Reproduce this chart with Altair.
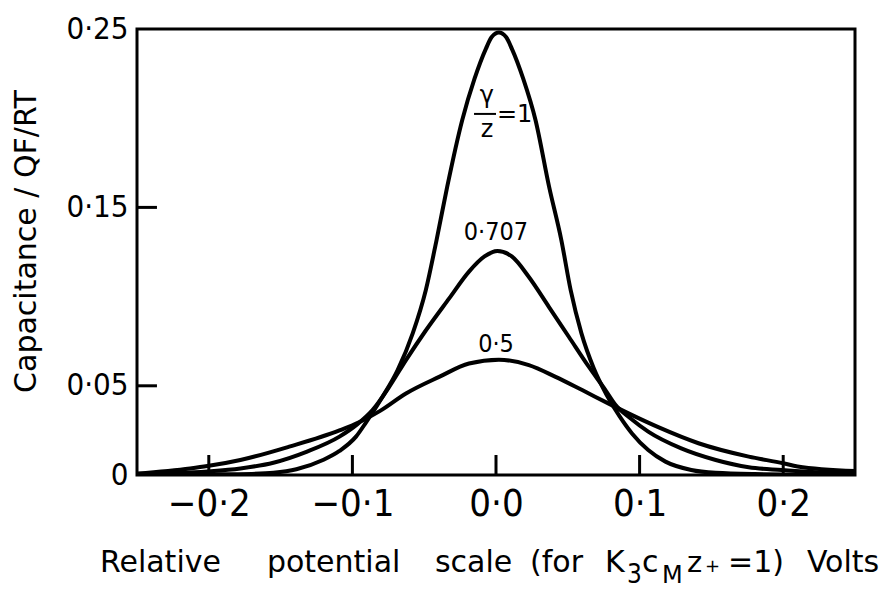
import altair as alt
import pandas as pd

# ---- data ----
x_ticks = [-0.2, -0.1, 0.0, 0.1, 0.2]
y_ticks = [0.0, 0.05, 0.15, 0.25]
y_inner_ticks = [0.05, 0.15]

series_names = ["1", "0.707", "0.5"]

g1_x = [-0.25, -0.20, -0.17, -0.155, -0.139, -0.1205, -0.109, -0.0975, -0.0905, -0.079,
        -0.0685, -0.058, -0.0489, -0.0414, -0.034, -0.0235, -0.015, -0.007, -0.003, 0.002,
        0.007, 0.011, 0.019, 0.0275, 0.037, 0.0455, 0.052, 0.0595, 0.068, 0.077,
        0.086, 0.0947, 0.106, 0.118, 0.136, 0.153, 0.18, 0.25]
g1_y = [0.0, 0.0003, 0.0006, 0.0012, 0.0032, 0.0084, 0.0135, 0.0215, 0.0295, 0.0439,
        0.0588, 0.0794, 0.1036, 0.1317, 0.1615, 0.199, 0.222, 0.239, 0.2455, 0.248,
        0.2455, 0.239, 0.222, 0.199, 0.1615, 0.1317, 0.1036, 0.0794, 0.0600, 0.0450,
        0.0330, 0.0233, 0.0140, 0.0075, 0.0028, 0.0012, 0.0005, 0.0]

g2_x = [-0.25, -0.201, -0.178, -0.155, -0.132, -0.109, -0.0965, -0.086, -0.0743, -0.0627,
        -0.0489, -0.0326, -0.0188, -0.008, 0.001, 0.011, 0.0229, 0.0368, 0.0507, 0.0646,
        0.0762, 0.083, 0.094, 0.106, 0.129, 0.153, 0.176, 0.199, 0.25]
g2_y = [0.0004, 0.0020, 0.0037, 0.0069, 0.0130, 0.0215, 0.0285, 0.0364, 0.0495, 0.0644,
        0.0810, 0.0990, 0.1140, 0.1225, 0.1255, 0.1225, 0.1110, 0.0943, 0.0775, 0.0607,
        0.0476, 0.0395, 0.0315, 0.0243, 0.0149, 0.0084, 0.0043, 0.0028, 0.0005]

g3_x = [-0.25, -0.213, -0.201, -0.178, -0.144, -0.109, -0.095, -0.081, -0.0627, -0.0396,
        -0.0188, 0.002, 0.0229, 0.0415, 0.060, 0.0785, 0.097, 0.113, 0.141, 0.176,
        0.200, 0.21, 0.25]
g3_y = [0.0008, 0.0037, 0.0050, 0.0084, 0.0159, 0.0250, 0.0297, 0.0358, 0.0457, 0.0550,
        0.0625, 0.0646, 0.0616, 0.0550, 0.0476, 0.0400, 0.0327, 0.0268, 0.0178, 0.0103,
        0.0066, 0.0048, 0.0022]

rows = []
for name, xs, ys in zip(series_names, [g1_x, g2_x, g3_x], [g1_y, g2_y, g3_y]):
    for xv, yv in zip(xs, ys):
        rows.append({"series": name, "x": xv, "y": yv})
df = pd.DataFrame(rows)

# ---- styling ----
F_MAIN = "DejaVu Sans"
F_COND = "DejaVu Sans Condensed, DejaVu Sans, sans-serif"
F_NARROW = "Liberation Sans Narrow, DejaVu Sans Condensed, sans-serif"

xscale = alt.Scale(domain=[-0.25, 0.25], nice=False, zero=False)
yscale = alt.Scale(domain=[0.0, 0.25], nice=False, zero=False)

lines = alt.Chart(df).mark_line(
    interpolate="monotone", color="black", strokeWidth=4, strokeCap="round",
    strokeJoin="round", clip=True
).encode(
    x=alt.X("x:Q", scale=xscale, axis=alt.Axis(
        values=x_ticks, title=None, grid=False, domain=False, ticks=False, tickSize=0,
        labelExpr="replace(format(datum.value, '.1f'), '.', '·')",
        labelFont=F_NARROW, labelFontSize=38, labelPadding=10, labelColor="black",
        labelFlush=False)),
    y=alt.Y("y:Q", scale=yscale, axis=alt.Axis(
        values=y_ticks, title="Capacitance / QF/RT", grid=False, domain=False,
        ticks=False, tickSize=0,
        labelExpr="datum.value == 0 ? '0' : replace(format(datum.value, '.2f'), '.', '·')",
        labelFont=F_COND, labelFontSize=31, labelPadding=9, labelColor="black",
        titleFont=F_MAIN, titleFontSize=30, titleFontWeight="normal", titleColor="black",
        titleX=-102, titleY=212, titleAngle=270, titleAlign="center",
        titleBaseline="alphabetic")),
    detail="series:N",
)

xt = pd.DataFrame({"x": x_ticks})
xtick_rules = alt.Chart(xt).mark_rule(color="black", strokeWidth=3).encode(
    x=alt.X("x:Q", scale=xscale),
    y=alt.YDatum(0.0),
    y2=alt.Y2Datum(0.0112),
)

yt = pd.DataFrame({"y": y_inner_ticks})
ytick_rules = alt.Chart(yt).mark_rule(color="black", strokeWidth=3).encode(
    y=alt.Y("y:Q", scale=yscale),
    x=alt.XDatum(-0.25),
    x2=alt.X2Datum(-0.2361),
)


def label(text, x, y, size, font=F_COND, align="left", baseline="alphabetic"):
    return alt.Chart(pd.DataFrame({"t": [text]})).mark_text(
        font=font, fontSize=size, align=align, baseline=baseline, color="black"
    ).encode(
        x=alt.XDatum(x),
        y=alt.YDatum(y),
        text="t:N",
    )


annotations = [
    label("0·707", 0.0, 0.1317, 25, align="center"),
    label("0·5", 0.0, 0.0691, 25, align="center"),
    label("γ", -0.0063, 0.2085, 24, font=F_MAIN, align="center"),
    label("z", -0.0063, 0.1895, 24, font=F_MAIN, align="center"),
    label("=1", 0.0007, 0.198, 24, font=F_MAIN),
]

frac_bar = alt.Chart(pd.DataFrame({"t": ["bar"]})).mark_rule(
    color="black", strokeWidth=2
).encode(
    x=alt.XDatum(-0.0153),
    x2=alt.X2Datum(0.0),
    y=alt.YDatum(0.2024),
)

# x-axis title, built piece by piece for its subscripts
yb = -0.0544
ys = -0.0605
title_parts = [
    label("Relative", -0.2758, yb, 30, font=F_MAIN),
    label("potential", -0.1595, yb, 30, font=F_MAIN),
    label("scale", -0.0425, yb, 30, font=F_MAIN),
    label("(for", 0.0237, yb, 30, font=F_MAIN),
    label("K", 0.0759, yb, 30, font=F_MAIN),
    label("3", 0.0912, ys, 26, font=F_COND),
    label("c", 0.1017, yb, 30, font=F_MAIN),
    label("M", 0.1156, ys, 24, font=F_MAIN),
    label("z", 0.133, yb, 29, font=F_MAIN),
    label("+", 0.1455, yb, 18, font=F_MAIN),
    label("=1)", 0.1616, yb, 30, font=F_MAIN),
    label("Volts", 0.2165, yb, 30, font=F_MAIN),
]

chart = alt.layer(
    lines, xtick_rules, ytick_rules, frac_bar, *annotations, *title_parts
).properties(
    width=718,
    height=446,
    padding={"left": 129, "top": 21, "right": 28, "bottom": 114},
    autosize=alt.AutoSizeParams(type="none"),
    background="white",
).configure_view(
    stroke="black", strokeWidth=3
)

chart.save("out.html", embed_options={"renderer": "svg", "actions": False})
